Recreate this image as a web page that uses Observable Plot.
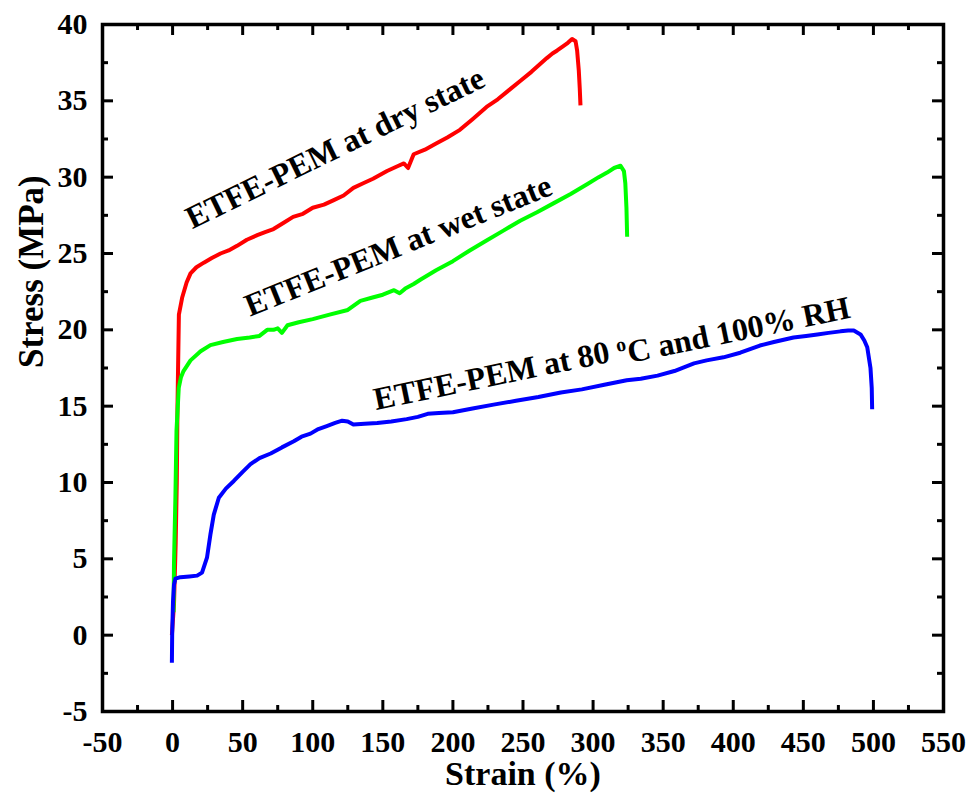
<!DOCTYPE html>
<html>
<head>
<meta charset="utf-8">
<script src="https://cdn.jsdelivr.net/npm/d3@7"></script>
<script src="https://cdn.jsdelivr.net/npm/@observablehq/plot@0.6"></script>
<style>
  html, body { margin: 0; padding: 0; background: #fff; }
</style>
</head>
<body>
<div id="chart"></div>
<script>
// ---- data ----
const dryStrain = [-0.5, 1, 2.2, 3, 3.5, 4, 4.5, 6.8, 10, 12.8, 17, 22.3, 28, 34.2, 40, 46, 53, 60.4, 66, 72, 79, 86, 93, 100, 108, 115, 122, 129, 136, 143, 153, 160, 165, 168, 172, 180, 188, 196, 205, 214, 224, 232, 240, 248, 256, 262, 267, 271, 274.4, 279, 282, 285, 287.5, 288.6, 289.8, 290.5, 291];
const dryStress = [0, 2, 6, 10, 15, 18, 21, 22.1, 23.1, 23.7, 24.1, 24.4, 24.7, 25.0, 25.2, 25.5, 25.9, 26.2, 26.4, 26.6, 27.0, 27.4, 27.6, 28.0, 28.2, 28.5, 28.8, 29.3, 29.6, 29.9, 30.4, 30.7, 30.9, 30.6, 31.5, 31.8, 32.2, 32.6, 33.1, 33.8, 34.6, 35.1, 35.7, 36.3, 36.9, 37.4, 37.8, 38.1, 38.3, 38.6, 38.8, 39.05, 38.9, 38.3, 37.0, 35.8, 34.7];

const wetStrain = [0.7, 1, 2, 2.8, 4.4, 6, 7.8, 12.8, 20, 27, 36, 46, 55, 62, 67.5, 72, 75, 78, 82, 90, 100, 112, 125, 134, 142, 150, 158, 162, 166, 172, 177, 188, 200, 212, 224, 236, 248, 260, 272, 284, 296, 304, 310, 315, 319.6, 322, 323, 323.8, 324.3];
const wetStress = [1.5, 4.7, 9, 13.4, 16.2, 16.9, 17.3, 18.0, 18.6, 19.0, 19.2, 19.4, 19.5, 19.6, 20.0, 20.0, 20.1, 19.8, 20.3, 20.5, 20.7, 21.0, 21.3, 21.9, 22.1, 22.3, 22.6, 22.4, 22.7, 23.0, 23.3, 23.9, 24.5, 25.2, 25.85, 26.5, 27.15, 27.7, 28.3, 28.9, 29.55, 30.0, 30.3, 30.6, 30.75, 30.4, 29.6, 28.0, 26.1];

const hotStrain = [-0.5, -0.3, 0.3, 1, 2, 5.6, 12, 17.5, 21, 24.6, 27, 29.4, 33, 38, 43.7, 50, 55.6, 62, 70, 78, 86.5, 92, 98.4, 104, 110, 116, 121, 125, 129, 137, 146, 156, 167, 175, 182, 190, 200, 214, 229, 245, 261, 277, 292, 308, 324, 334, 346, 358, 372, 381, 393, 405, 419, 429, 443, 452, 460, 468, 476.5, 482, 486, 490.8, 493.5, 495.6, 497.9, 498.8, 499.1];
const hotStress = [-1.8, 0, 2.2, 3.3, 3.7, 3.8, 3.85, 3.9, 4.1, 5.1, 6.6, 7.9, 9.0, 9.6, 10.1, 10.7, 11.2, 11.6, 11.9, 12.3, 12.7, 13.0, 13.2, 13.5, 13.7, 13.9, 14.05, 14.0, 13.8, 13.85, 13.9, 14.0, 14.15, 14.3, 14.5, 14.55, 14.6, 14.85, 15.1, 15.35, 15.6, 15.9, 16.1, 16.4, 16.7, 16.8, 17.0, 17.3, 17.8, 18.0, 18.2, 18.5, 18.97, 19.2, 19.5, 19.6, 19.7, 19.8, 19.9, 19.95, 19.95, 19.7, 19.3, 18.86, 17.5, 16.2, 14.8];

const xMajor = [-50, 0, 50, 100, 150, 200, 250, 300, 350, 400, 450, 500, 550];
const xMinor = [-25, 25, 75, 125, 175, 225, 275, 325, 375, 425, 475, 525];
const yMajor = [-5, 0, 5, 10, 15, 20, 25, 30, 35, 40];
const yMinor = [-2.5, 2.5, 7.5, 12.5, 17.5, 22.5, 27.5, 32.5, 37.5];

const seriesNames = ["ETFE-PEM at dry state", "ETFE-PEM at wet state", "ETFE-PEM at 80 oC and 100% RH"];
const xTitle = "Strain (%)";
const yTitle = "Stress (MPa)";

// ---- build tables ----
const toRows = (xs, ys) => xs.map((x, i) => ({x, y: ys[i]}));
const dry = toRows(dryStrain, dryStress);
const wet = toRows(wetStrain, wetStress);
const hot = toRows(hotStrain, hotStress);

const W = 970, H = 795;
const mL = 102, mR = 27, mT = 24, mB = 84;
const innerW = W - mL - mR, innerH = H - mT - mB;
const font = "'Liberation Serif', 'Times New Roman', serif";

const annot = (text, x, y, rotate, size) => Plot.text([text], {
  x: () => x, y: () => y, text: d => d, rotate,
  fontSize: size, fontWeight: "bold", fill: "black", textAnchor: "middle", fontFamily: font
});

const lineOpts = {x: "x", y: "y", strokeWidth: 4, strokeLinejoin: "round", strokeLinecap: "butt"};

const chart = Plot.plot({
  width: W, height: H,
  marginLeft: mL, marginRight: mR, marginTop: mT, marginBottom: mB,
  x: {domain: [-50, 550]},
  y: {domain: [-5, 40]},
  style: {fontFamily: font, fontWeight: "bold", color: "black", background: "white", overflow: "visible"},
  marks: [
    Plot.line(dry, {...lineOpts, stroke: "#ff0000"}),
    Plot.line(wet, {...lineOpts, stroke: "#00ff00"}),
    Plot.line(hot, {...lineOpts, stroke: "#0000ff"}),
    // inward ticks
    Plot.tickX(xMajor, {x: d => d, insetTop: innerH - 11, stroke: "black", strokeWidth: 3}),
    Plot.tickX(xMajor, {x: d => d, insetBottom: innerH - 11, stroke: "black", strokeWidth: 3}),
    Plot.tickX(xMinor, {x: d => d, insetTop: innerH - 6, stroke: "black", strokeWidth: 3}),
    Plot.tickX(xMinor, {x: d => d, insetBottom: innerH - 6, stroke: "black", strokeWidth: 3}),
    Plot.tickY(yMajor, {y: d => d, insetRight: innerW - 11, stroke: "black", strokeWidth: 3}),
    Plot.tickY(yMajor, {y: d => d, insetLeft: innerW - 11, stroke: "black", strokeWidth: 3}),
    Plot.tickY(yMinor, {y: d => d, insetRight: innerW - 6, stroke: "black", strokeWidth: 3}),
    Plot.tickY(yMinor, {y: d => d, insetLeft: innerW - 6, stroke: "black", strokeWidth: 3}),
    Plot.frame({stroke: "black", strokeWidth: 3.5}),
    // tick labels
    Plot.axisX(xMajor, {tickSize: 0, tickPadding: 19, fontSize: 30, fontWeight: "bold", fontFamily: font, label: null, tickFormat: d => String(d)}),
    Plot.axisY(yMajor, {tickSize: 0, tickPadding: 15, fontSize: 30, fontWeight: "bold", fontFamily: font, label: null, tickFormat: d => String(d)}),
    // axis titles
    Plot.text([xTitle], {frameAnchor: "bottom", dy: 73, text: d => d, fontSize: 34, fontWeight: "bold", fontFamily: font, fill: "black"}),
    Plot.text([yTitle], {frameAnchor: "left", dx: -71, rotate: -90, text: d => d, fontSize: 35, fontWeight: "bold", fontFamily: font, fill: "black"}),
    // annotations
    annot(seriesNames[0], 116, 31.9, -26, 32),
    annot(seriesNames[1], 161, 25.5, -22, 32),
    annot(seriesNames[2], 313, 18.6, -11.6, 32)
  ]
});

// superscript "o" in the 80 oC label
chart.querySelectorAll("text").forEach(t => {
  if (t.textContent === seriesNames[2]) {
    const ns = "http://www.w3.org/2000/svg";
    t.textContent = "";
    const a = document.createElementNS(ns, "tspan"); a.textContent = "ETFE-PEM at 80 ";
    const b = document.createElementNS(ns, "tspan"); b.textContent = "o"; b.setAttribute("dy", "-0.42em"); b.setAttribute("font-size", "62%");
    const c = document.createElementNS(ns, "tspan"); c.textContent = "C and 100% RH"; c.setAttribute("dy", "0.42em");
    t.append(a, b, c);
  }
});

document.getElementById("chart").append(chart);
</script>
</body>
</html>
